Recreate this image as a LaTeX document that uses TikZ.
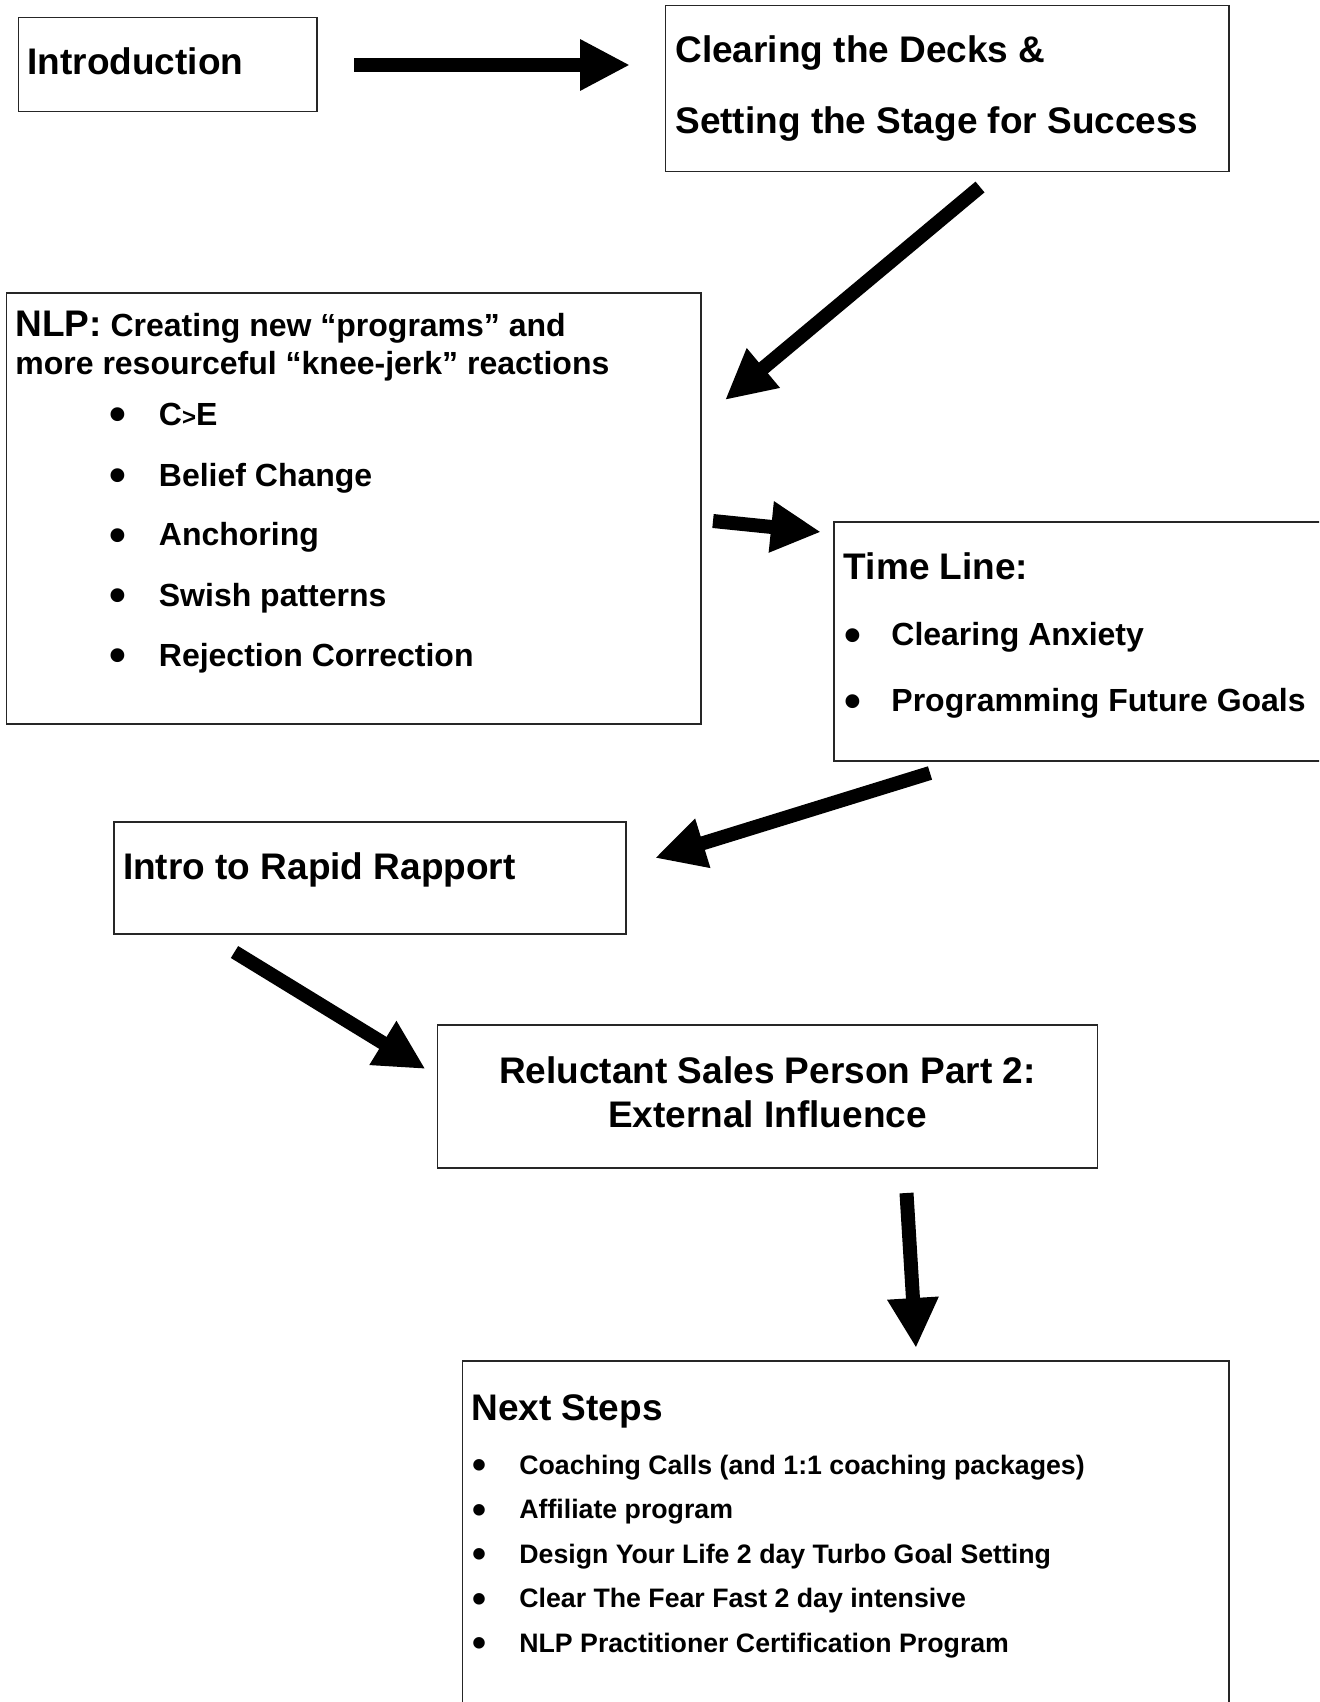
\documentclass[tikz,border=0pt]{standalone}
\usepackage{fontspec}
\setmainfont{Liberation Sans}
\usetikzlibrary{arrows.meta}
\tikzset{
  box/.style={draw=black!85, line width=0.65pt, rectangle, inner sep=0pt, outer sep=0pt, anchor=north west},
  big/.style={font=\fontsize{18.5}{22}\selectfont\bfseries, inner sep=0pt, anchor=base west},
  mid/.style={font=\fontsize{16}{19}\selectfont\bfseries, inner sep=0pt, anchor=base west},
  sml/.style={font=\fontsize{13.35}{16}\selectfont\bfseries, inner sep=0pt, anchor=base west},
  blk/.style={line width=7pt, -{Triangle[length=25pt,width=24pt]}},
}
\newcommand{\bigbul}{\hspace{-0.09em}\raisebox{-0.18em}{\scalebox{1.5}{•}}}
\newcommand{\bulA}{\makebox[23.5pt][l]{\bigbul}}
\newcommand{\bulB}{\makebox[22.25pt][l]{\bigbul}}
\newcommand{\bulC}{\makebox[22.3pt][l]{\bigbul}}
\begin{document}
\begin{tikzpicture}[x=0.5pt,y=-0.5pt]
\clip (0,0) rectangle (1319,1702);
\fill[white] (0,0) rectangle (1319,1702);

% boxes
\node[box, minimum width=149.25pt, minimum height=47.2pt] (intro) at (18.5,17.4) {};
\node[box, minimum width=281.75pt, minimum height=83.05pt] (clear) at (665.5,5.4) {};
\node[box, minimum width=347.25pt, minimum height=215.5pt] (nlp) at (6.5,293) {};
\node[box, minimum width=250pt, minimum height=119.5pt] (timeline) at (834,522) {};
\node[box, minimum width=256pt, minimum height=56pt] (rapport) at (114,822) {};
\node[box, minimum width=330pt, minimum height=71.5pt] (reluct) at (437.5,1025) {};
\node[box, minimum width=383.25pt, minimum height=185pt] (next) at (462.5,1361) {};

% texts
\node[big] (introT) at (27,75) {Introduction};
\node[big] (clearT1) at (675,63) {Clearing the Decks \&};
\node[big] (clearT2) at (675,133.5) {Setting the Stage for Success};

\node[mid] (nlpT1) at (15,336) {{\fontsize{18.5}{22}\selectfont NLP:} Creating new “programs” and};
\node[mid] (nlpT2) at (15,374) {more resourceful “knee-jerk” reactions};
\node[mid] (nlpI1) at (111.5,425) {\bulA C{\fontsize{12}{14}\selectfont >}E};
\node[mid] (nlpI2) at (111.5,486) {\bulA Belief Change};
\node[mid] (nlpI3) at (111.5,545.5) {\bulA Anchoring};
\node[mid] (nlpI4) at (111.5,606) {\bulA Swish patterns};
\node[mid] (nlpI5) at (111.5,666) {\bulA Rejection Correction};

\node[big] (tlT) at (843.5,579.5) {Time Line:};
\node[mid] (tlI1) at (846.5,645.5) {\bulB Clearing Anxiety};
\node[mid] (tlI2) at (846.5,711.6) {\bulB Programming Future Goals};

\node[big] (rapT) at (122.7,879) {Intro to Rapid Rapport};

\node[big, anchor=base] (relT1) at (767.5,1083.5) {Reluctant Sales Person Part 2:};
\node[big, anchor=base] (relT2) at (767.5,1127) {External Influence};

\node[big] (nextT) at (471,1420) {Next Steps};
\node[sml] (nextI1) at (474.4,1474) {\bulC Coaching Calls (and 1:1 coaching packages)};
\node[sml] (nextI2) at (474.4,1518.5) {\bulC Affiliate program};
\node[sml] (nextI3) at (474.4,1563) {\bulC Design Your Life 2 day Turbo Goal Setting};
\node[sml] (nextI4) at (474.4,1607.5) {\bulC Clear The Fear Fast 2 day intensive};
\node[sml] (nextI5) at (474.4,1652) {\bulC NLP Practitioner Certification Program};

% arrow end points
\coordinate (a1s) at (354,65);   \coordinate (a1e) at (630,65);
\coordinate (a2s) at (980,187);  \coordinate (a2e) at (725,400);
\coordinate (a3s) at (713,521);  \coordinate (a3e) at (821,532);
\coordinate (a4s) at (930,773);  \coordinate (a4e) at (655,858);
\coordinate (a5s) at (234.5,952); \coordinate (a5e) at (425.5,1069);
\coordinate (a6s) at (906.5,1193); \coordinate (a6e) at (916,1348);

\draw[blk] (a1s) -- (a1e);
\draw[blk] (a2s) -- (a2e);
\draw[blk] (a3s) -- (a3e);
\draw[blk] (a4s) -- (a4e);
\draw[blk] (a5s) -- (a5e);
\draw[blk] (a6s) -- (a6e);
\end{tikzpicture}
\end{document}
